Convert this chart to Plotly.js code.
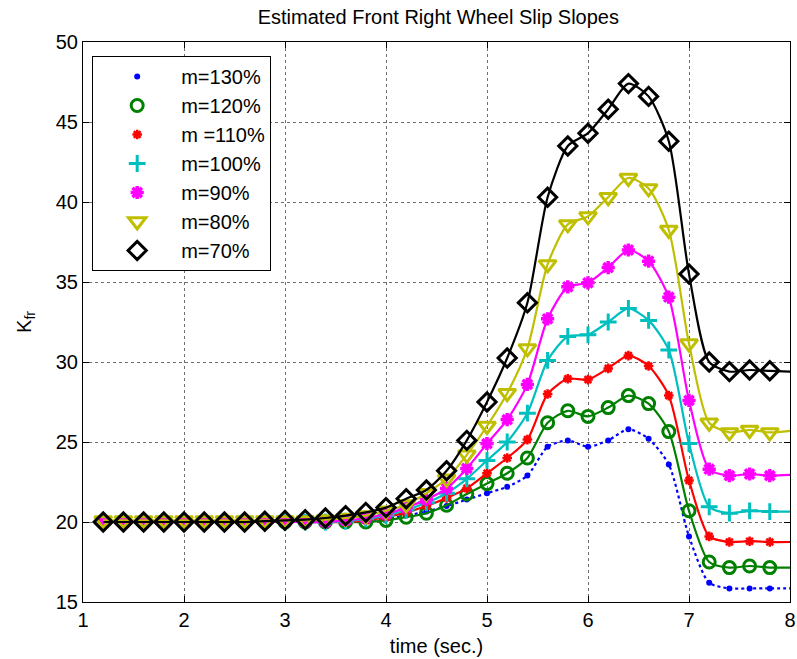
<!DOCTYPE html>
<html>
<head>
<meta charset="utf-8">
<script src="https://cdn.plot.ly/plotly-3.0.1.min.js"></script>
<style>html,body{margin:0;padding:0;background:#fff;}#chart{width:797px;height:659px;}</style>
</head>
<body>
<div id="chart"></div>
<script>
// time samples (line runs to 8.0; markers drawn up to 7.8)
var time = [1.2,1.4,1.6,1.8,2.0,2.2,2.4,2.6,2.8,3.0,3.2,3.4,3.6,3.8,4.0,4.2,4.4,4.6,4.8,5.0,5.2,5.4,5.6,5.8,6.0,6.2,6.4,6.6,6.8,7.0,7.2,7.4,7.6,7.8,8.0];

var m130 = [20.0,20.0,20.0,20.0,20.0,20.0,20.0,20.0,20.0,20.0,20.0,20.0,20.05,20.1,20.2,20.4,20.65,21.0,21.4,21.8,22.2,22.9,24.7,25.1,24.7,25.1,25.8,25.2,23.6,19.1,16.2,15.85,15.85,15.85,15.85];
var m120 = [20.0,20.0,20.0,20.0,20.0,20.0,20.0,20.0,20.0,20.0,20.0,20.0,20.0,20.0,20.1,20.3,20.55,21.05,21.75,22.4,23.05,24.0,26.2,26.95,26.6,27.15,27.9,27.4,25.65,20.7,17.5,17.15,17.25,17.15,17.15];
var m110 = [20.0,20.0,20.0,20.0,20.0,20.0,20.0,20.0,20.0,20.0,20.0,20.0,20.0,20.1,20.3,20.6,21.0,21.5,22.1,23.05,24.0,25.15,28.0,28.95,28.9,29.6,30.4,29.75,27.9,22.6,19.1,18.75,18.8,18.75,18.75];
var m100 = [20.0,20.0,20.0,20.0,20.0,20.0,20.0,20.0,20.0,20.0,20.0,20.0,20.05,20.2,20.4,20.75,21.2,21.8,22.7,23.85,25.0,26.8,30.1,31.6,31.7,32.5,33.35,32.6,30.75,24.9,20.95,20.55,20.7,20.65,20.65];
var m90  = [20.0,20.0,20.0,20.0,20.0,20.0,20.0,20.0,20.0,20.0,20.0,20.0,20.1,20.25,20.5,20.9,21.4,22.1,23.35,24.9,26.4,28.6,32.7,34.7,34.95,35.9,37.0,36.3,34.05,27.6,23.3,22.9,23.0,22.9,22.95];
var m80  = [20.1,20.1,20.1,20.1,20.1,20.1,20.1,20.1,20.1,20.1,20.1,20.15,20.25,20.4,20.7,21.1,21.8,22.7,24.2,26.0,28.05,30.85,36.1,38.6,39.1,40.3,41.5,40.85,38.25,31.15,26.2,25.6,25.75,25.6,25.7];
var m70  = [20.0,20.0,20.0,20.0,20.0,20.0,20.0,20.0,20.05,20.1,20.15,20.25,20.4,20.6,20.9,21.45,22.0,23.2,25.1,27.5,30.25,33.7,40.3,43.5,44.3,45.8,47.4,46.6,43.8,35.5,30.0,29.4,29.5,29.45,29.4];

var seriesNames = ['m=130%','m=120%','m =110%','m=100%','m=90%','m=80%','m=70%'];
var seriesData = [m130,m120,m110,m100,m90,m80,m70];

var styles = [
  {color:'#0000ff', dash:'dot', symbol:'circle', size:6, mlw:0},
  {color:'#008000', dash:'solid', symbol:'circle-open', size:12, mlw:3},
  {color:'#ff0000', dash:'solid', symbol:'asterisk-open', size:8, mlw:2.5},
  {color:'#00bfbf', dash:'solid', symbol:'cross-thin-open', size:12, mlw:3},
  {color:'#ff00ff', dash:'solid', symbol:'asterisk-open', size:11, mlw:3.5},
  {color:'#bfbf00', dash:'solid', symbol:'triangle-down-open', size:15, mlw:3},
  {color:'#000000', dash:'solid', symbol:'diamond-open', size:14, mlw:3}
];

var traces = [];
for (var i = 0; i < seriesData.length; i++) {
  var s = styles[i];
  traces.push({
    x: time, y: seriesData[i], type:'scatter', mode:'lines',
    line:{color:s.color, width:2.2, dash:s.dash, shape:'spline', smoothing:0.7},
    showlegend:false, hoverinfo:'skip'
  });
  traces.push({
    x: time.slice(0, time.length-1), y: seriesData[i].slice(0, time.length-1),
    type:'scatter', mode:'markers', name: seriesNames[i],
    marker:{symbol:s.symbol, size:s.size, color:s.color, line:{color:s.color, width:s.mlw}}
  });
}

var axisCommon = {
  showline:true, linecolor:'#000', linewidth:1, mirror:'allticks',
  ticks:'inside', ticklen:6, tickcolor:'#000',
  showgrid:true, gridcolor:'#6f6f6f', griddash:'dot', gridwidth:1,
  zeroline:false, tickfont:{family:'Liberation Sans, Arial, sans-serif', size:20, color:'#000'}
};

var layout = {
  width:797, height:659,
  margin:{l:83, r:7, t:42, b:57},
  paper_bgcolor:'#fff', plot_bgcolor:'#fff',
  font:{family:'Liberation Sans, Arial, sans-serif', color:'#000'},
  title:{text:'Estimated Front Right Wheel Slip Slopes', font:{size:20, color:'#000'}, x:0.55, xanchor:'center', y:0.985, yanchor:'top'},
  xaxis: Object.assign({}, axisCommon, {range:[1,8], dtick:1, tick0:1,
    title:{text:'time (sec.)', font:{size:20}, standoff:8}}),
  yaxis: Object.assign({}, axisCommon, {range:[15,50], dtick:5, tick0:15,
    title:{text:'K<sub>fr</sub>', font:{size:20}, standoff:18}}),
  legend:{x:0.013, y:0.975, xanchor:'left', yanchor:'top',
    bgcolor:'#fff', bordercolor:'#000', borderwidth:1,
    font:{size:20, color:'#000'}, itemwidth:78, tracegroupgap:0}
};

Plotly.newPlot('chart', traces, layout, {displayModeBar:false, staticPlot:true});
</script>
</body>
</html>
